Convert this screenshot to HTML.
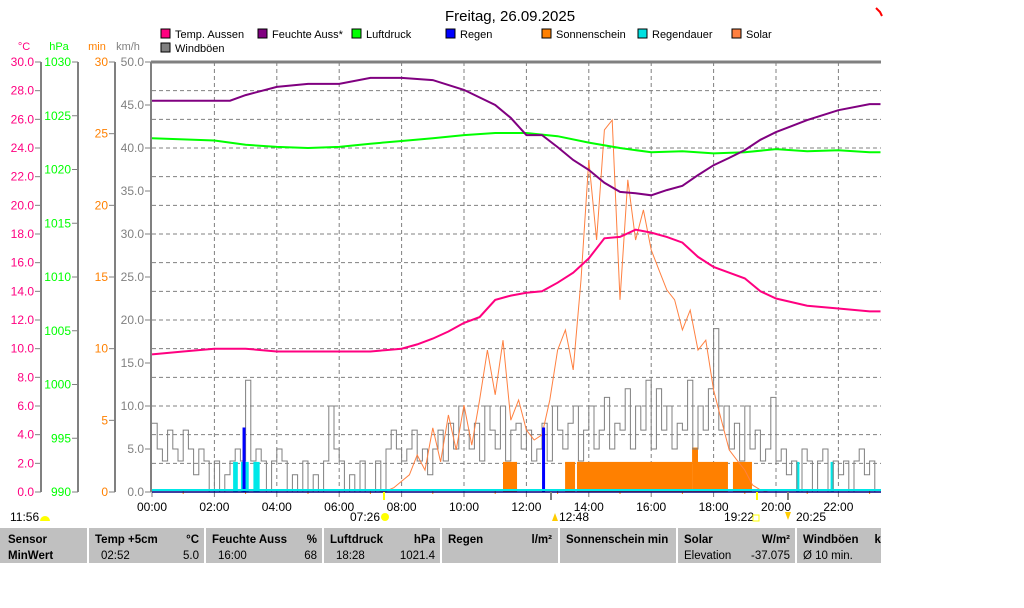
<!DOCTYPE html>
<html><head><meta charset="utf-8">
<style>
body{margin:0;background:#fff;width:1024px;height:608px;overflow:hidden;font-family:"Liberation Sans",sans-serif;}
svg{position:absolute;left:0;top:0}
text{font-family:"Liberation Sans",sans-serif}
</style></head>
<body>
<svg id="chart" width="1024" height="608">
<text x="510" y="21" font-size="15" text-anchor="middle" fill="#000">Freitag, 26.09.2025</text>
<path d="M876 8 L880 12 L882 16" stroke="#ff0000" stroke-width="2" fill="none"/>
<g id="legend"></g>
<g id="axes"></g>
<g id="grid"></g>
<g id="marks"></g>
<g id="bottom"></g>
</svg>
<script>
// ---- data ----
const tempHours = [0,1,2,3,4,5,6,7,7.5,8,8.5,9,9.5,10,10.5,11,11.5,12,12.5,13,13.5,14,14.5,15,15.5,16,16.5,17,17.5,18,18.5,19,19.5,20,21,22,23,23.35];
const tempValues = [9.6,9.8,10.0,10.0,9.8,9.8,9.8,9.8,9.9,10.0,10.3,10.7,11.2,11.8,12.2,13.4,13.7,13.9,14.0,14.6,15.3,16.3,17.7,17.8,18.3,18.1,17.8,17.4,16.4,15.7,15.3,14.9,14.0,13.5,13.0,12.8,12.6,12.6];
const humHours = [0,2,2.5,3,4,5,6,7,8,9,10,11,11.5,12,12.5,13,13.5,14,14.5,15,15.5,16,16.5,17,17.5,18,18.5,19,19.5,20,21,22,23,23.35];
const humValues = [91,91,91,92.3,94.2,94.9,94.9,96.3,96.3,95.8,93.5,90,87,83,83,80.2,77.2,74.9,71.9,69.8,69.5,69,70.2,71.2,73.7,76,77.7,79.5,81.9,83.7,86.5,88.8,90.2,90.2];
const presHours = [0,2,3,4,5,6,7,8,9,10,11,12,13,14,15,16,17,18,19,20,21,22,23,23.35];
const presValues = [1022.9,1022.7,1022.3,1022.1,1022.0,1022.1,1022.4,1022.65,1022.9,1023.2,1023.4,1023.4,1023.1,1022.5,1022.0,1021.6,1021.7,1021.5,1021.6,1021.9,1021.7,1021.8,1021.6,1021.6];
const windValues = [8,5,3.6,7.2,5,3.6, 7.2,5,2,5,3.6,0, 3.6,0,2,3.6,5,3.6, 13,3.6,5,3.6,0,3.6, 5,3.6,0,2,0,3.6, 0,2,0,3.6,10,5, 3.6,0,2,0,3.6,0, 0,3.6,0,5,7.2,5, 3.6,5,7.2,3.6,5,2, 5,7.2,3.6,8,5,10, 7.2,5,8,3.6,10,7.2, 5,10,3.6,7.2,8,5, 7.2,3.6,5,8,3.6,10, 7.2,5,8,10,3.6,7.2, 10,5,7.2,11,5,8, 7.2,12,5,10,7.2,13, 5,12,7.2,10,5,8, 7.2,13,5,10,7.2,12, 19,7.2,10,5,8,3.6, 10,5,7.2,3.6,5,11, 3.6,5,2,3.6,0,5, 3.6,0,3.6,5,0,3.6, 2,3.6,0,3.6,5,2, 3.6,0];
const solarHours = [7.25,7.5,7.75,8,8.25,8.5,8.75,9,9.25,9.5,9.75,10,10.25,10.5,10.75,11,11.25,11.5,11.75,12,12.25,12.5,12.75,13,13.25,13.5,13.75,14,14.25,14.5,14.75,15,15.25,15.5,15.75,16,16.25,16.5,16.75,17,17.25,17.5,17.75,18,18.25,18.5,18.75,19,19.25,19.5,19.75];
const solarValues = [0,2,10,25,40,86,51,149,70,179,98,202,109,214,330,226,353,167,214,144,121,133,214,330,377,284,493,772,586,842,865,447,726,586,656,563,516,470,447,377,423,330,353,237,167,98,74,51,16,5,0];
const sunStart = [11.25,13.24,13.62,17.31,17.5,18.62];
const sunEnd = [11.7,13.56,17.31,17.5,18.46,19.23];
const sunMinutes = [2.1,2.1,2.1,3.1,2.1,2.1];
const rainHours = [2.95,12.55];
const rainValues = [0.3,0.3];
const rainDurStart = [2.6,2.85,3.25,20.65,21.75];
const rainDurEnd = [2.75,3.1,3.45,20.75,21.85];
const rainDurMinutes = [2.1,2.1,2.1,2.1,2.1];
const tempTicks = ["0.0","2.0","4.0","6.0","8.0","10.0","12.0","14.0","16.0","18.0","20.0","22.0","24.0","26.0","28.0","30.0"];
const presTicks = ["990","995","1000","1005","1010","1015","1020","1025","1030"];
const minTicks = ["0","5","10","15","20","25","30"];
const kmhTicks = ["0.0","5.0","10.0","15.0","20.0","25.0","30.0","35.0","40.0","45.0","50.0"];
const timeTicks = ["00:00","02:00","04:00","06:00","08:00","10:00","12:00","14:00","16:00","18:00","20:00","22:00"];

// ---- scales ----
const X0=152, X1=881, YT=62, YB=492, H=YB-YT, PXH=31.2;
const xT = h => X0 + h*PXH;
const yTemp = v => YB - v/30*H;
const yHum = v => YB - v/100*H;
const yPres = v => YB - (v-990)/40*H;
const yMin = v => YB - v/30*H;
const yKmh = v => YB - v/50*H;
const ySolar = v => YB - v/1000*H;
const yRain = v => YB - v/2*H;

const NS="http://www.w3.org/2000/svg";
function mk(tag, attrs, parent, txt){const e=document.createElementNS(NS,tag);for(const k in attrs)e.setAttribute(k,attrs[k]);if(txt!==undefined)e.textContent=txt;parent.appendChild(e);return e;}
const axes=document.getElementById('axes'), grid=document.getElementById('grid'), marks=document.getElementById('marks'), bottom=document.getElementById('bottom'), legend=document.getElementById('legend');

// legend
const leg=[["Temp. Aussen","#ff0080",160,38],["Feuchte Auss*","#800080",257,38],["Luftdruck","#00ff00",351,38],["Regen","#0000ff",445,38],["Sonnenschein","#ff8000",541,38],["Regendauer","#00e0e0",637,38],["Solar","#ff8040",731,38],["Windböen","#808080",160,52]];
leg.forEach(l=>{
  const g=mk('g',{},legend);
  
  
  mk('rect',{x:l[2]+1,y:l[3]-9,width:9,height:9,fill:l[1],stroke:'#000','stroke-width':1},g);
  mk('text',{x:l[2]+15,y:l[3],'font-size':11,fill:'#000'},g,l[0]);
});

// axis helper
function axis(lineX, labels, yf, vals, color, unit, unitX){
  const g=mk('g',{},axes);
  
  
  mk('line',{x1:lineX,y1:YT,x2:lineX,y2:YB,stroke:'#808080','stroke-width':2},g);
  labels.forEach((t,i)=>{const y=yf(vals[i]);
    mk('line',{x1:lineX-6,y1:y,x2:lineX,y2:y,stroke:'#808080','stroke-width':1},g);
    mk('text',{x:lineX-7,y:y+4,'font-size':12,fill:color,'text-anchor':'end'},g,t);});
  mk('text',{x:unitX,y:50,'font-size':11,fill:color,'text-anchor':'middle'},g,unit);
}
axis(41,tempTicks,yTemp,tempTicks.map(Number),'#ff0080','°C',24);
axis(78,presTicks,yPres,presTicks.map(Number),'#00ff00','hPa',59);
axis(115,minTicks,yMin,minTicks.map(Number),'#ff8000','min',97);
axis(151,kmhTicks,yKmh,kmhTicks.map(Number),'#808080','km/h',128);

// grid
for(let i=1;i<15;i++){const y=yTemp(i*2);const l=mk('line',{x1:X0,y1:y,x2:X1,y2:y,stroke:'#808080','stroke-dasharray':'4,3','stroke-width':1},grid);}
timeTicks.forEach((t,i)=>{const x=xT(i*2);
  if(i>0){const l=mk('line',{x1:x,y1:YT,x2:x,y2:YB,stroke:'#808080','stroke-dasharray':'4,3','stroke-width':1},grid);}
  mk('line',{x1:x,y1:YB,x2:x,y2:YB+5,stroke:'#808080'},grid);
  const tx=mk('text',{x:x,y:YB+19,'font-size':12,fill:'#000','text-anchor':'middle'},grid,t);
  
});
for(let h=1;h<24;h+=2){const x=xT(h);if(x<X1)mk('line',{x1:x,y1:YB-2,x2:x,y2:YB+2,stroke:'#ff8000'},grid);}
mk('line',{x1:X0-1,y1:YT,x2:X1,y2:YT,stroke:'#808080','stroke-width':3},grid);

// sunshine bars
sunStart.forEach((s,i)=>{const r=mk('rect',{x:xT(s),y:yMin(sunMinutes[i]),width:xT(sunEnd[i])-xT(s),height:YB-yMin(sunMinutes[i]),fill:'#ff8000'},marks);
  });
// rain duration
rainDurStart.forEach((s,i)=>{const r=mk('rect',{x:xT(s),y:yMin(rainDurMinutes[i]),width:xT(rainDurEnd[i])-xT(s),height:YB-yMin(rainDurMinutes[i]),fill:'#00e8e8'},marks);
  });
// wind steps
(function(){let d='';windValues.forEach((v,i)=>{const x1=xT(i/6);if(x1>=X1)return;const x2=Math.min(xT((i+1)/6),X1),y=yKmh(v);d+=(i?'L':'M')+x1.toFixed(1)+' '+y.toFixed(1)+'L'+x2.toFixed(1)+' '+y.toFixed(1);});
  const p=mk('path',{d:d,fill:'none',stroke:'#808080','stroke-width':1},marks);})();
// solar
(function(){const d=solarHours.map((h,i)=>(i?'L':'M')+xT(h).toFixed(1)+' '+ySolar(solarValues[i]).toFixed(1)).join('');
  const p=mk('path',{d:d,fill:'none',stroke:'#ff8040','stroke-width':1},marks);})();
// rain
rainHours.forEach((h,i)=>{const r=mk('rect',{x:xT(h)-1.5,y:yRain(rainValues[i]),width:3,height:YB-yRain(rainValues[i]),fill:'#0000ff'},marks);
  });
// lines
function line(hs,vs,yf,color,name){const d=hs.map((h,i)=>(i?'L':'M')+Math.min(xT(h),X1).toFixed(1)+' '+yf(vs[i]).toFixed(1)).join('');
  const p=mk('path',{d:d,fill:'none',stroke:color,'stroke-width':2},marks);}
line(presHours,presValues,yPres,'#00ff00','pressure-series');
line(humHours,humValues,yHum,'#800080','humidity-series');
line(tempHours,tempValues,yTemp,'#ff0080','temperature-series');
// baseline
mk('line',{x1:X0,y1:YB-2,x2:X1,y2:YB-2,stroke:'#00e8e8','stroke-width':2},marks);
mk('line',{x1:X0,y1:YB,x2:X1,y2:YB,stroke:'#000080','stroke-width':1.5},marks);

// sun/moon markers
mk('line',{x1:384,y1:YB,x2:384,y2:YB+8,stroke:'#ffff00','stroke-width':2},bottom);
mk('line',{x1:757,y1:YB,x2:757,y2:YB+8,stroke:'#ffff00','stroke-width':2},bottom);
mk('line',{x1:551,y1:YB,x2:551,y2:YB+8,stroke:'#808080','stroke-width':2},bottom);
mk('line',{x1:788,y1:YB,x2:788,y2:YB+8,stroke:'#808080','stroke-width':2},bottom);
[["11:56",10],["07:26",350],["12:48",559],["19:22",724],["20:25",796]].forEach(a=>{const t=mk('text',{x:a[1],y:521,'font-size':12,fill:'#000'},bottom,a[0]);});
mk('path',{d:'M40 521 A5 5 0 0 1 50 521 Z',fill:'#ffff00'},bottom);
mk('circle',{cx:385,cy:517,r:4,fill:'#ffff00'},bottom);
mk('path',{d:'M552 521 L555 513 L558 521 Z',fill:'#ffcc00'},bottom);
mk('rect',{x:753,y:515,width:6,height:6,fill:'none',stroke:'#ffff00'},bottom);
mk('path',{d:'M785 512 L791 512 L788 520 Z',fill:'#ffcc00'},bottom);
</script>
<div style="position:absolute;left:0;top:528px;width:881px;height:35px;background:#c0c0c0;font-size:11.5px;overflow:hidden">
 <div style="position:absolute;left:8px;top:6px;font-weight:bold">Sensor</div>
 <div style="position:absolute;left:8px;top:22px;font-weight:bold">MinWert</div>
 <div style="position:absolute;left:87px;top:0;width:2px;height:35px;background:#fff"></div>
 <div style="position:absolute;left:95px;top:6px;width:104px;font-weight:bold">Temp +5cm<span style="float:right">°C</span></div>
 <div style="position:absolute;left:101px;top:22px;width:98px">02:52<span style="float:right">5.0</span></div>
 <div style="position:absolute;left:204px;top:0;width:2px;height:35px;background:#fff"></div>
 <div style="position:absolute;left:212px;top:6px;width:105px;font-weight:bold">Feuchte Auss<span style="float:right">%</span></div>
 <div style="position:absolute;left:218px;top:22px;width:99px">16:00<span style="float:right">68</span></div>
 <div style="position:absolute;left:322px;top:0;width:2px;height:35px;background:#fff"></div>
 <div style="position:absolute;left:330px;top:6px;width:105px;font-weight:bold">Luftdruck<span style="float:right">hPa</span></div>
 <div style="position:absolute;left:336px;top:22px;width:99px">18:28<span style="float:right">1021.4</span></div>
 <div style="position:absolute;left:440px;top:0;width:2px;height:35px;background:#fff"></div>
 <div style="position:absolute;left:448px;top:6px;width:104px;font-weight:bold">Regen<span style="float:right">l/m²</span></div>
 <div style="position:absolute;left:558px;top:0;width:2px;height:35px;background:#fff"></div>
 <div style="position:absolute;left:566px;top:6px;width:106px;font-weight:bold">Sonnenschein min</div>
 <div style="position:absolute;left:676px;top:0;width:2px;height:35px;background:#fff"></div>
 <div style="position:absolute;left:684px;top:6px;width:106px;font-weight:bold">Solar<span style="float:right">W/m²</span></div>
 <div style="position:absolute;left:684px;top:22px;width:106px">Elevation<span style="float:right">-37.075</span></div>
 <div style="position:absolute;left:795px;top:0;width:2px;height:35px;background:#fff"></div>
 <div style="position:absolute;left:803px;top:6px;width:100px;font-weight:bold;white-space:nowrap">Windböen&nbsp;&nbsp;&nbsp;&nbsp;&nbsp;km/h</div>
 <div style="position:absolute;left:803px;top:22px">Ø 10 min.</div>
</div>
</body></html>
